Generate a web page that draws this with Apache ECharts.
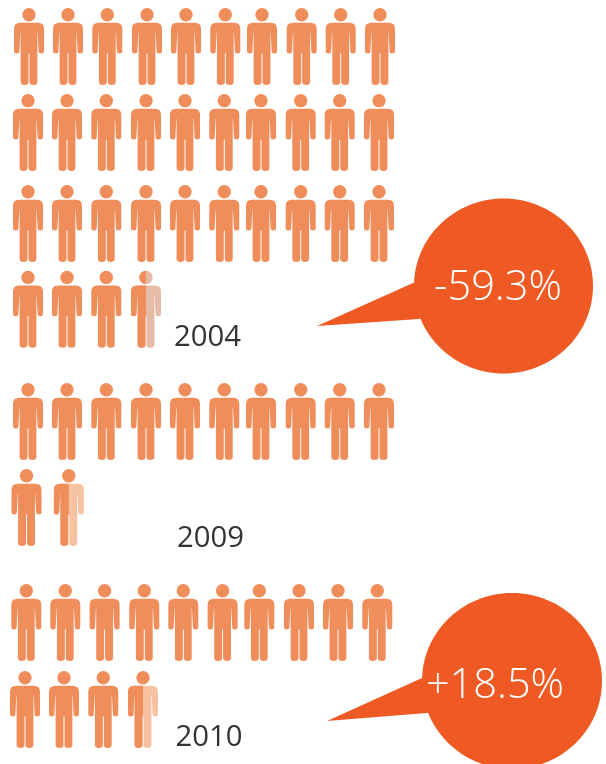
<!DOCTYPE html>
<html>
<head>
<meta charset="utf-8">
<style>html,body{margin:0;padding:0;background:#fff}#c{width:606px;height:764px}</style>
<script src="https://cdn.jsdelivr.net/npm/echarts@6/dist/echarts.min.js"></script>
</head>
<body>
<div id="c"></div>
<script>
// Data
const years = ['2004', '2009', '2010'];
const peopleCounts = [33.5, 11.5, 13.5];
const changeLabels = ['-59.3%', '+18.5%'];

// Layout and style
const perRow = 10;
const stepX = 39;
const slotNudge = [0, 0, 0.3, 1, 1, 1.3, -1, -0.3, -0.3, 0];
const W = 30, H = 77;
const mainColor = '#EF8D5B';
const ghostColors = ['#E6BBA8', '#F7C2A2', '#F7C2A2'];
const bubbleColor = '#EF5A24';
const font = '"Open Sans", sans-serif';
const HEAD = 'M15 0A6.7 6.7 0 1 1 15 13.4A6.7 6.7 0 1 1 15 0Z';
const BODY = 'M6 14.7L24 14.7Q30 14.7 30 20.7L30 43Q30 45.5 27.3 45.5Q24.6 45.5 24.6 43L23.7 25L23.4 25L23.4 74Q23.4 77 19.5 77Q15.5 77 15.5 74L15.5 45.5L14.5 45.5L14.5 74Q14.5 77 10.5 77Q6.6 77 6.6 74L6.6 25L6.3 25L5.4 43Q5.4 45.5 2.7 45.5Q0 45.5 0 43L0 20.7Q0 14.7 6 14.7Z';
const blocks = [
  {left: 14, top: 8, height: 263, rows: 4, dx: [0, -1, -1, -1], dy: [0, -1.7, 1.7, -0.3], headSplit: true},
  {left: 13, top: 383, height: 86, rows: 2, dx: [0, -1.5], dy: [0, 0], headSplit: false, extra: {1: 3.3}},
  {left: 11.3, top: 584, height: 87, rows: 2, dx: [0, -1.3], dy: [0, 0], headSplit: false}
];
const yearPos = [[174, 352], [177, 553], [175.5, 752]];
const bubbles = [
  {cx: 503.5, cy: 286, rx: 89.5, ry: 87.5, tail: [[413, 283], [317, 326], [419, 319]], tx: 498, ty: 288},
  {cx: 512, cy: 681, rx: 90, ry: 88, tail: [[422, 678], [327, 721], [427, 713]], tx: 495, ty: 686}
];

const series = years.map((y, i) => {
  const cells = [];
  const n = Math.ceil(peopleCounts[i]);
  for (let k = 0; k < n; k++) {
    cells.push([k % perRow, Math.floor(k / perRow), Math.min(1, peopleCounts[i] - k)]);
  }
  const b = blocks[i];
  return {
    type: 'custom',
    name: y,
    xAxisIndex: i,
    yAxisIndex: i,
    coordinateSystem: 'cartesian2d',
    silent: true,
    clip: false,
    data: cells,
    encode: {x: 0, y: 1},
    renderItem(params, api) {
      const slot = api.value(0), row = api.value(1), frac = api.value(2);
      const p = api.coord([slot, row]);
      const extra = (b.extra && row === b.rows - 1 && b.extra[slot]) || 0;
      const x = p[0] + b.dx[row] + slotNudge[slot] + extra, yy = p[1] + b.dy[row];
      const children = [];
      const clip = {type: 'rect', shape: {x: 0, y: -1, width: W * frac, height: H + 2}};
      const part = (d, fill, clipped) => {
        const el = {type: 'path', x, y: yy, shape: {pathData: d}, style: {fill}};
        if (clipped) el.clipPath = clip;
        return el;
      };
      if (frac < 1) {
        children.push(part(BODY, ghostColors[i], false));
        if (b.headSplit) children.push(part(HEAD, ghostColors[i], false));
      }
      children.push(part(BODY, mainColor, frac < 1));
      children.push(part(HEAD, mainColor, frac < 1 && b.headSplit));
      return {type: 'group', children};
    }
  };
});

const graphic = [];
years.forEach((y, i) => graphic.push({
  type: 'text', x: yearPos[i][0], y: yearPos[i][1], z: 5,
  style: {text: y, fill: '#333333', font: '29.3px ' + font, verticalAlign: 'bottom'}
}));
bubbles.forEach((b, i) => {
  graphic.push({type: 'ellipse', z: 6, shape: {cx: b.cx, cy: b.cy, rx: b.rx, ry: b.ry}, style: {fill: bubbleColor}});
  graphic.push({type: 'polygon', z: 6, shape: {points: b.tail.concat([[b.cx, b.cy]])}, style: {fill: bubbleColor}});
  graphic.push({type: 'text', z: 7, x: b.tx, y: b.ty, style: {text: changeLabels[i], fill: '#ffffff', font: '300 41.5px ' + font, align: 'center', verticalAlign: 'middle'}});
});

const chart = echarts.init(document.getElementById('c'), null, {renderer: 'canvas'});
chart.setOption({
  animation: false,
  backgroundColor: '#ffffff',
  grid: blocks.map(b => ({left: b.left, top: b.top, width: stepX * (perRow - 1), height: b.height, containLabel: false})),
  xAxis: blocks.map((b, i) => ({type: 'value', gridIndex: i, min: 0, max: perRow - 1, show: false})),
  yAxis: blocks.map((b, i) => ({type: 'value', gridIndex: i, min: 0, max: b.rows - 1, inverse: true, show: false})),
  series,
  graphic
});
</script>
</body>
</html>
